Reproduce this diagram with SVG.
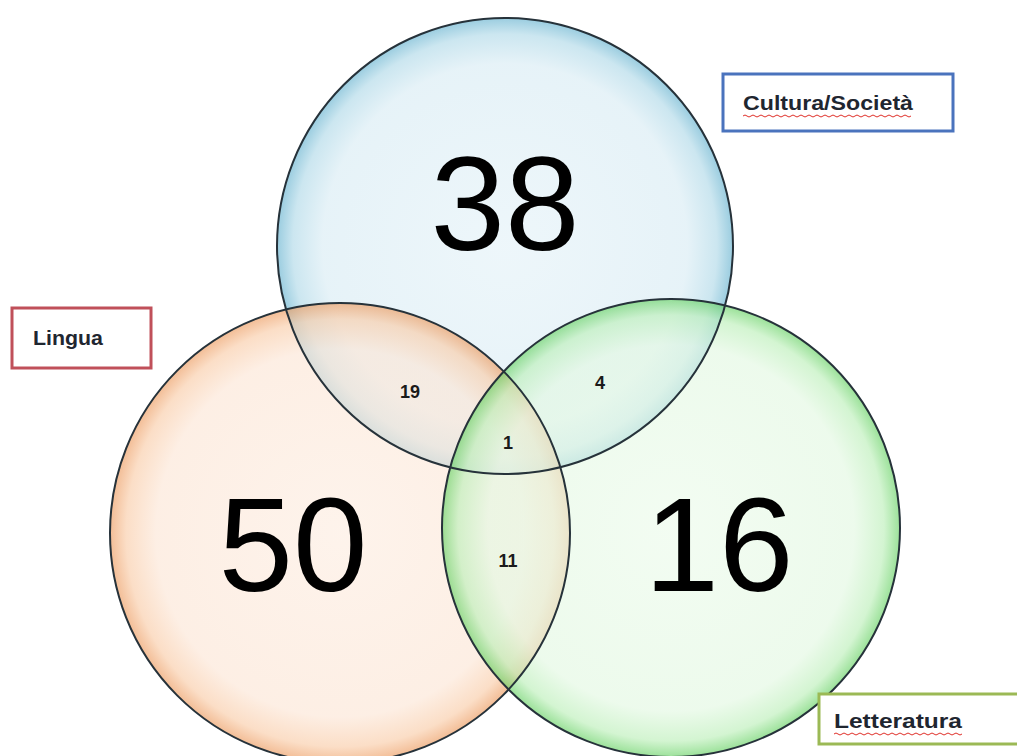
<svg xmlns="http://www.w3.org/2000/svg" width="1017" height="756" viewBox="0 0 1017 756">
  <defs>
    <radialGradient id="gBlue" cx="0.5" cy="0.5" r="0.5">
      <stop offset="0" stop-color="#e4f2f8"/>
      <stop offset="0.8" stop-color="#d9ecf4"/>
      <stop offset="0.93" stop-color="#b0d9e8"/>
      <stop offset="1" stop-color="#65b2cf"/>
    </radialGradient>
    <radialGradient id="gOrange" cx="0.5" cy="0.5" r="0.5">
      <stop offset="0" stop-color="#fdede1"/>
      <stop offset="0.8" stop-color="#fce6d6"/>
      <stop offset="0.93" stop-color="#f9cca8"/>
      <stop offset="1" stop-color="#ec9a5e"/>
    </radialGradient>
    <radialGradient id="gGreen" cx="0.5" cy="0.5" r="0.5">
      <stop offset="0" stop-color="#ecfbeb"/>
      <stop offset="0.8" stop-color="#e3f8e2"/>
      <stop offset="0.93" stop-color="#bcefb9"/>
      <stop offset="1" stop-color="#66d163"/>
    </radialGradient>
    <style>
      .fill { fill-opacity: 0.65; stroke: none; }
      .outline { fill: none; stroke: #26323a; stroke-width: 2; }
      .big { font-family: "Liberation Sans", Arial, sans-serif; font-size: 134px; fill: #000; text-anchor: middle; }
      .small { font-family: "Liberation Sans", Arial, sans-serif; font-size: 18px; font-weight: bold; fill: #1a1a1a; text-anchor: middle; }
      .lbl { font-family: "Liberation Sans", Arial, sans-serif; font-size: 21px; font-weight: bold; fill: #1f2630; }
      .box { fill: #ffffff; stroke-width: 3; }
      .squig { fill: none; stroke: #e0302a; stroke-width: 1; }
    </style>
  </defs>
  <rect x="0" y="0" width="1017" height="756" fill="#ffffff"/>

  <g id="circle-cultura">
    <circle class="fill" cx="505" cy="246" r="228" fill="url(#gBlue)"/>
  </g>
  <g id="circle-lingua">
    <circle class="fill" cx="340" cy="533" r="230" fill="url(#gOrange)"/>
  </g>
  <g id="circle-letteratura">
    <circle class="fill" cx="671" cy="528" r="229" fill="url(#gGreen)"/>
  </g>
  <g id="outlines">
    <circle class="outline" cx="505" cy="246" r="228"/>
    <circle class="outline" cx="340" cy="533" r="230"/>
    <circle class="outline" cx="671" cy="528" r="229"/>
  </g>

  <g id="counts">
    <text class="big" x="505" y="250">38</text>
    <text class="big" x="293" y="591">50</text>
    <text class="big" x="719" y="591">16</text>
    <text class="small" x="410" y="398">19</text>
    <text class="small" x="600" y="389">4</text>
    <text class="small" x="508" y="449">1</text>
    <text class="small" x="508" y="567">11</text>
  </g>

  <g id="label-cultura">
    <rect class="box" x="723" y="74" width="230" height="57" stroke="#4a73bd"/>
    <text class="lbl" x="743" y="110" textLength="170" lengthAdjust="spacingAndGlyphs">Cultura/Società</text>
    <path class="squig" d="M743 116 q2 -2 4 0 t4 0 t4 0 t4 0 t4 0 t4 0 t4 0 t4 0 t4 0 t4 0 t4 0 t4 0 t4 0 t4 0 t4 0 t4 0 t4 0 t4 0 t4 0 t4 0 t4 0 t4 0 t4 0 t4 0 t4 0 t4 0 t4 0 t4 0 t4 0 t4 0 t4 0 t4 0 t4 0 t4 0 t4 0 t4 0 t4 0 t4 0 t4 0 t4 0 t4 0 t4 0"/>
  </g>
  <g id="label-lingua">
    <rect class="box" x="12" y="308" width="139" height="60" stroke="#c0505a"/>
    <text class="lbl" x="33" y="345" textLength="70" lengthAdjust="spacingAndGlyphs">Lingua</text>
  </g>
  <g id="label-letteratura">
    <rect class="box" x="819" y="694" width="210" height="50" stroke="#9bb955"/>
    <text class="lbl" x="834" y="728" textLength="128" lengthAdjust="spacingAndGlyphs">Letteratura</text>
    <path class="squig" d="M834 734 q2 -2 4 0 t4 0 t4 0 t4 0 t4 0 t4 0 t4 0 t4 0 t4 0 t4 0 t4 0 t4 0 t4 0 t4 0 t4 0 t4 0 t4 0 t4 0 t4 0 t4 0 t4 0 t4 0 t4 0 t4 0 t4 0 t4 0 t4 0 t4 0 t4 0 t4 0 t4 0 t4 0"/>
  </g>
</svg>
